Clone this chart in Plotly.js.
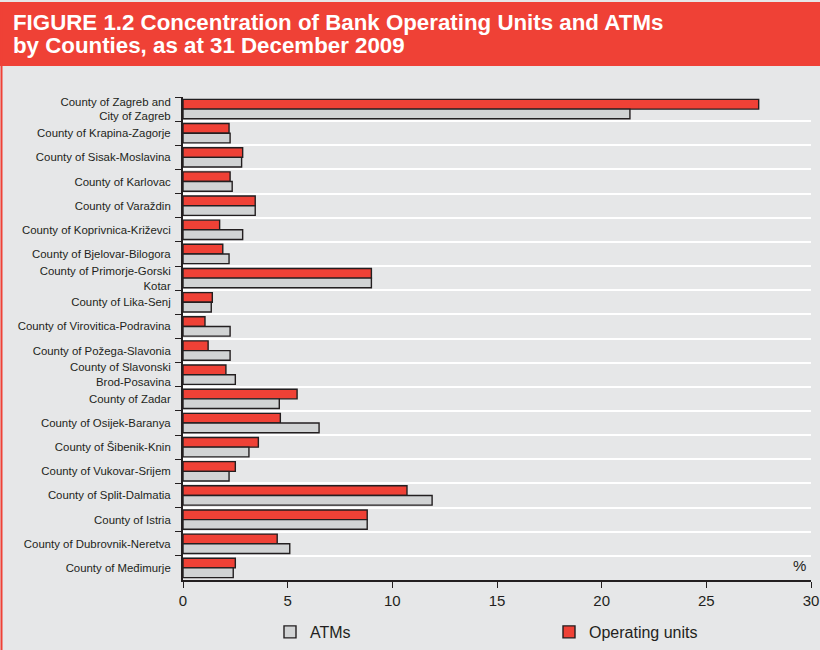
<!DOCTYPE html>
<html>
<head>
<meta charset="utf-8">
<script src="https://cdn.plot.ly/plotly-3.0.1.min.js"></script>
<style>html,body{margin:0;padding:0;background:#e6e7e8;}#chart{width:820px;height:650px;}</style>
</head>
<body>
<div id="chart"></div>
<script>
const counties = [
  "County of Zagreb and<br>City of Zagreb",
  "County of Krapina-Zagorje",
  "County of Sisak-Moslavina",
  "County of Karlovac",
  "County of Varaždin",
  "County of Koprivnica-Križevci",
  "County of Bjelovar-Bilogora",
  "County of Primorje-Gorski<br>Kotar",
  "County of Lika-Senj",
  "County of Virovitica-Podravina",
  "County of Požega-Slavonia",
  "County of Slavonski<br>Brod-Posavina",
  "County of Zadar",
  "County of Osijek-Baranya",
  "County of Šibenik-Knin",
  "County of Vukovar-Srijem",
  "County of Split-Dalmatia",
  "County of Istria",
  "County of Dubrovnik-Neretva",
  "County of Međimurje"
];
const operatingUnits = [27.5, 2.2, 2.85, 2.25, 3.45, 1.75, 1.9, 9.0, 1.4, 1.05, 1.2, 2.05, 5.45, 4.65, 3.6, 2.5, 10.7, 8.8, 4.5, 2.5];
const atms = [21.35, 2.25, 2.8, 2.35, 3.45, 2.85, 2.2, 9.0, 1.35, 2.25, 2.25, 2.5, 4.6, 6.5, 3.15, 2.2, 11.9, 8.8, 5.1, 2.4];
const xTicks = [0, 5, 10, 15, 20, 25, 30];
const titleLines = ["FIGURE 1.2 Concentration of Bank Operating Units and ATMs", "by Counties, as at 31 December 2009"];

const red = '#ef4136', grey = '#d1d3d4', dark = '#231f20', bg = '#e6e7e8';

const traces = [
  {type:'bar', orientation:'h', name:'Operating units', y:counties, x:operatingUnits,
   marker:{color:red, line:{color:dark, width:1.4}}, hoverinfo:'x+y'},
  {type:'bar', orientation:'h', name:'ATMs', y:counties, x:atms,
   marker:{color:grey, line:{color:dark, width:1.4}}, hoverinfo:'x+y'}
];

const M = {l:183, r:9, t:97, b:70};
const pw = 820 - M.l - M.r, ph = 650 - M.t - M.b;
const px2x = p => (p - M.l) / pw;
const py2y = p => (650 - M.b - p) / ph;

const layout = {
  width:820, height:650,
  paper_bgcolor:bg, plot_bgcolor:bg,
  margin:M,
  barmode:'group', bargap:0.2, bargroupgap:0,
  font:{family:'Liberation Sans, Arial, sans-serif', color:dark},
  showlegend:true,
  xaxis:{range:[0,30], tickvals:xTicks, ticktext:xTicks.map(String), showgrid:false, zeroline:false,
         showline:true, linecolor:dark, linewidth:2, ticks:'outside', ticklen:6, tickcolor:dark, tickwidth:1,
         tickfont:{size:15, color:dark}, fixedrange:true, automargin:false},
  yaxis:{type:'category', autorange:'reversed', tickson:'boundaries', showgrid:true, gridcolor:'#ffffff', gridwidth:1.5,
         showline:true, linecolor:dark, linewidth:2, ticks:'outside', ticklen:6, tickcolor:dark,
         tickfont:{family:'Liberation Sans, Arial, sans-serif', size:11.4, color:dark},
         ticklabelstandoff:8, fixedrange:true, automargin:false},
  legend:{orientation:'h', traceorder:'reversed', x:270/820, xanchor:'left', xref:'container',
          yref:'container', y:(650-632)/650, yanchor:'middle',
          bgcolor:'rgba(0,0,0,0)', font:{size:16, color:dark}, entrywidth:234, itemclick:false, itemdoubleclick:false},
  shapes:[
    {type:'rect', xref:'paper', yref:'paper', x0:px2x(0), x1:px2x(820), y0:py2y(66), y1:py2y(2), fillcolor:red, line:{width:0}, layer:'below'},
    {type:'line', xref:'paper', yref:'paper', x0:px2x(1.5), x1:px2x(1.5), y0:py2y(650), y1:py2y(2), line:{color:red, width:2}, layer:'below'}
  ],
  annotations:[
    {text:titleLines[0], xref:'paper', yref:'paper', x:px2x(11), y:py2y(22), xanchor:'left', yanchor:'middle', showarrow:false,
     font:{family:'Liberation Sans, Arial, sans-serif', size:22.3, color:'#ffffff', weight:'bold'}},
    {text:titleLines[1], xref:'paper', yref:'paper', x:px2x(11), y:py2y(46), xanchor:'left', yanchor:'middle', showarrow:false,
     font:{family:'Liberation Sans, Arial, sans-serif', size:22.3, color:'#ffffff', weight:'bold'}},
    {text:'%', xref:'paper', yref:'paper', x:1, y:0, xanchor:'right', yanchor:'bottom', yshift:4, xshift:-3, showarrow:false, font:{size:15, color:dark}}
  ]
};

Plotly.newPlot('chart', traces, layout, {displayModeBar:false});
</script>
</body>
</html>
